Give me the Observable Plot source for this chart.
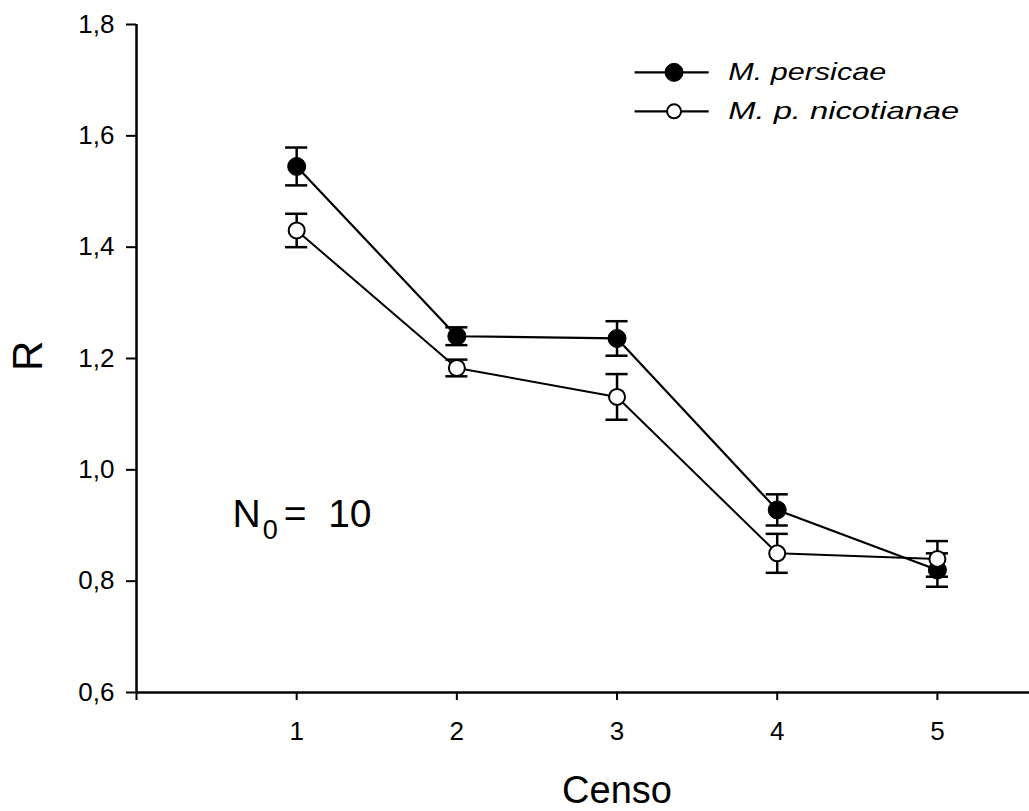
<!DOCTYPE html>
<html>
<head>
<meta charset="utf-8">
<script src="https://cdn.jsdelivr.net/npm/d3@7"></script>
<script src="https://cdn.jsdelivr.net/npm/@observablehq/plot@0.6"></script>
<style>
  html, body { margin: 0; padding: 0; background: #fff; }
  #chart svg { display: block; }
</style>
</head>
<body>
<div id="chart"></div>
<script>
// ---- Data ----
const censo = [1, 2, 3, 4, 5];
const seriesNames = ["M. persicae", "M. p. nicotianae"];
const persicaeMean = [1.545, 1.240, 1.236, 0.928, 0.820];
const persicaeErr  = [0.034, 0.016, 0.031, 0.028, 0.030];
const nicotianaeMean = [1.430, 1.183, 1.131, 0.850, 0.840];
const nicotianaeErr  = [0.030, 0.015, 0.041, 0.035, 0.032];
const xTicks = [0, 1, 2, 3, 4, 5];
const yTicks = [0.6, 0.8, 1.0, 1.2, 1.4, 1.6, 1.8];
const xLabel = "Censo";
const yLabel = "R";

// ---- Build rows ----
const persicae = censo.map((c, i) => ({x: c, y: persicaeMean[i], lo: persicaeMean[i] - persicaeErr[i], hi: persicaeMean[i] + persicaeErr[i]}));
const nicotianae = censo.map((c, i) => ({x: c, y: nicotianaeMean[i], lo: nicotianaeMean[i] - nicotianaeErr[i], hi: nicotianaeMean[i] + nicotianaeErr[i]}));
const allRows = persicae.concat(nicotianae);
const capHalf = 0.069;

const legendRows = [
  {name: seriesNames[0], ly: 1.714},
  {name: seriesNames[1], ly: 1.644}
];

const font = "'Liberation Sans', Arial, Helvetica, sans-serif";

const plot = Plot.plot({
  width: 1029,
  height: 811,
  marginLeft: 136,
  marginRight: 0,
  marginTop: 24,
  marginBottom: 119,
  style: {fontFamily: font, fontSize: "26px", background: "white", color: "black", overflow: "visible"},
  x: {domain: [0, 5.575]},
  y: {domain: [0.6, 1.8]},
  marks: [
    Plot.axisX({ticks: xTicks, tickFormat: d => d === 0 ? "" : String(d), tickSize: 8, tickPadding: 21, fontSize: 26, strokeWidth: 2, label: null}),
    Plot.axisY({ticks: yTicks, tickFormat: d => d.toFixed(1).replace(".", ","), tickSize: 10, tickPadding: 12, fontSize: 26, strokeWidth: 2, label: null}),
    Plot.ruleX([0], {y1: () => 0.6, y2: () => 1.8, strokeWidth: 2.5}),
    Plot.ruleY([0.6], {strokeWidth: 2.5}),
    // lines
    Plot.line(persicae, {x: "x", y: "y", stroke: "black", strokeWidth: 2.2}),
    Plot.line(nicotianae, {x: "x", y: "y", stroke: "black", strokeWidth: 2}),
    // error bars
    Plot.ruleX(allRows, {x: "x", y1: "lo", y2: "hi", strokeWidth: 2.5}),
    Plot.ruleY(allRows, {y: "hi", x1: d => d.x - capHalf, x2: d => d.x + capHalf, strokeWidth: 2.5}),
    Plot.ruleY(allRows, {y: "lo", x1: d => d.x - capHalf, x2: d => d.x + capHalf, strokeWidth: 2.5}),
    // markers
    Plot.dot(persicae, {x: "x", y: "y", r: 9, fill: "black", stroke: "black", strokeWidth: 1}),
    Plot.dot(nicotianae, {x: "x", y: "y", r: 8, fill: "white", stroke: "black", strokeWidth: 2}),
    // legend
    Plot.ruleY(legendRows, {y: "ly", x1: () => 3.1125, x2: () => 3.575, stroke: "black", strokeWidth: 2.2}),
    Plot.dot(legendRows.slice(0, 1), {x: () => 3.356, y: "ly", r: 9, fill: "black", stroke: "black", strokeWidth: 1}),
    Plot.dot(legendRows.slice(1, 2), {x: () => 3.356, y: "ly", r: 7, fill: "white", stroke: "black", strokeWidth: 2}),
    Plot.text(legendRows, {x: () => 3.694, y: "ly", text: "name", textAnchor: "start", lineAnchor: "middle", fontStyle: "italic", fontSize: 24, fill: "black", ariaDescription: "legend"}),
    // axis titles
    Plot.text([yLabel], {x: () => -0.675, y: () => 1.205, text: d => d, rotate: -90, fontSize: 42, textAnchor: "middle", lineAnchor: "middle", fill: "black"}),
    Plot.text([xLabel], {x: () => 3, y: () => 0.424, text: d => d, fontSize: 38, textAnchor: "middle", lineAnchor: "middle", fill: "black"}),
    // N0 = 10 annotation
    Plot.text(["N"], {x: () => 0.6, y: () => 0.919, text: d => d, fontSize: 39, textAnchor: "start", lineAnchor: "middle", fill: "black"}),
    Plot.text(["0"], {x: () => 0.7875, y: () => 0.892, text: d => d, fontSize: 27, textAnchor: "start", lineAnchor: "middle", fill: "black"}),
    Plot.text(["= \u00a010"], {x: () => 0.919, y: () => 0.919, text: d => d, fontSize: 39, textAnchor: "start", lineAnchor: "middle", fill: "black"})
  ]
});

// widen legend labels to match the reference's stretched lettering
const legendLengths = [158, 231];
d3.select(plot).selectAll('g[aria-description="legend"] text')
  .each(function(_, i) {
    d3.select(this).attr("textLength", legendLengths[i]).attr("lengthAdjust", "spacingAndGlyphs");
  });

document.getElementById("chart").appendChild(plot);
</script>
</body>
</html>
